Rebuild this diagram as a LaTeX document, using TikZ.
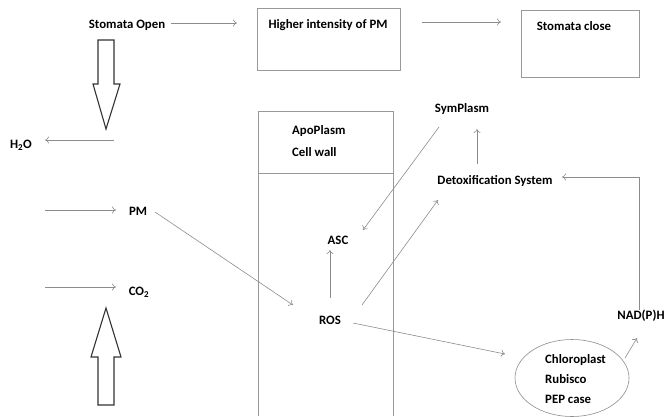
\documentclass[tikz,border=0pt]{standalone}
\usepackage{fontspec}
\setmainfont{Carlito}
\usetikzlibrary{arrows.meta,shapes.geometric,calc}
\begin{document}
\begin{tikzpicture}[x=1pt,y=-1pt,
  txt/.style={font=\bfseries\fontsize{12.8}{15}\selectfont, inner sep=0pt},
  conn/.style={draw=black!45, line width=0.6pt, -{To[length=4pt,width=7pt]}},
  boxline/.style={draw=black!40, line width=0.7pt},
  block/.style={draw=black!80, line width=1.1pt, fill=white}]
\useasboundingbox (0,0) rectangle (664,416);
% top row
\node[txt] (SO) at (127,25) {Stomata Open};
\node[boxline, minimum width=143pt, minimum height=62pt, inner sep=0pt] (hib) at (328.5,39) {};
\node[txt] (hit) at (328,25) {Higher intensity of PM};
\node[boxline, minimum width=118pt, minimum height=67pt, inner sep=0pt] (scb) at (580,43.5) {};
\node[txt] (sct) at (574,26) {Stomata close};
\draw[conn] ($(SO)+(44,-2)$) -- ($(hib)+(-91.5,-16)$);
\draw[conn] ($(hib)+(93.5,-17)$) -- ($(scb)+(-79,-21.5)$);
% block arrows
\draw[block] (98,40) -- (114,40) -- (114,84) -- (120,84) -- (106,129) -- (93,84) -- (98,84) -- cycle;
\draw[block] (98,405) -- (114,405) -- (114,357) -- (121,357) -- (106,308) -- (91,357) -- (98,357) -- cycle;
% left side
\node[txt] (H2O) at (21,145) {H\textsubscript{2}O};
\coordinate (h2ostart) at (114,140);
\draw[conn] (h2ostart) -- ($(H2O)+(24,-5)$);
\node[txt] (PM) at (138,211) {PM};
\coordinate (pmstart) at (45,210);
\draw[conn] (pmstart) -- ($(PM)+(-22,-1)$);
\node[txt] (CO2) at (139,292) {CO\textsubscript{2}};
\coordinate (costart) at (45,287);
\draw[conn] (costart) -- ($(CO2)+(-23,-5)$);
% apoplasm
\draw[boxline] (258,416) -- (258,111) -- (393,111) -- (393,416);
\draw[boxline] (258,173) -- (393,173);
\node[txt, anchor=west, align=left, font=\bfseries\fontsize{12.8}{22}\selectfont] (apo) at (292,141) {ApoPlasm\\Cell wall};
% ROS etc.
\node[txt] (ROS) at (330,320) {ROS};
\node[txt] (ASC) at (338,240) {ASC};
\node[txt] (SYM) at (462,109) {SymPlasm};
\node[txt] (DET) at (495,181) {Detoxification System};
\node[txt] (NAD) at (641,316) {NAD(P)H};
\node[draw=black!45, line width=0.6pt, ellipse, minimum width=114pt, minimum height=77pt, inner sep=0pt] (CHL) at (572,378) {};
\node[txt, anchor=west, align=left, font=\bfseries\fontsize{12.8}{20}\selectfont] (chlt) at (545,379) {Chloroplast\\Rubisco\\PEP case};
\draw[conn] ($(PM)+(17,1)$) -- ($(ROS)+(-37,-15)$);
\draw[conn] ($(ROS)+(0,-22)$) -- ($(ASC)+(-8,10)$);
\draw[conn] ($(SYM)+(-23,18)$) -- ($(ASC)+(25,-10)$);
\draw[conn] ($(ROS)+(32,-15)$) -- ($(DET)+(-57,19)$);
\draw[conn] ($(DET)+(-18,-17)$) -- ($(SYM)+(15,20)$);
\draw[conn] ($(NAD)+(-2,-6)$) |- ($(DET)+(67,-4)$);
\draw[conn] ($(ROS)+(23,3)$) -- ($(CHL)+(-67,-24)$);
\draw[conn] ($(CHL)+(53,-20)$) -- ($(NAD)+(-4,22)$);
\end{tikzpicture}
\end{document}
